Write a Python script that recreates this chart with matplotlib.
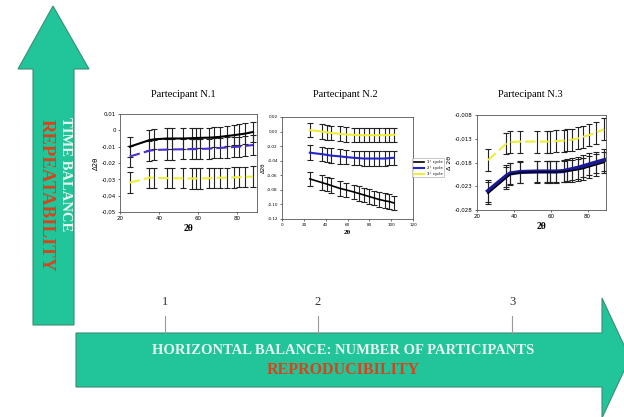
import matplotlib.pyplot as plt
from matplotlib.patches import Polygon
from matplotlib.ticker import FuncFormatter

plt.rcParams["axes.unicode_minus"] = False

# ---- data ----
titles = ["Partecipant N.1", "Partecipant N.2", "Partecipant N.3"]
participant_ticks = ["1", "2", "3"]

x1 = [25, 35, 37.5, 44, 46.5, 52, 57, 59, 61, 65.5, 68, 71, 74.5, 78, 81, 84, 88]
black1 = [-0.010, -0.006, -0.0055, -0.005, -0.005, -0.005, -0.0048, -0.0047, -0.0046,
          -0.0045, -0.0043, -0.004, -0.0035, -0.003, -0.0025, -0.002, -0.001]
blue1 = [-0.016, -0.0125, -0.012, -0.0118, -0.0117, -0.0116, -0.0115, -0.0115, -0.0114,
         -0.0112, -0.011, -0.0108, -0.0105, -0.0102, -0.010, -0.0095, -0.009]
yellow1 = [-0.032, -0.029, -0.029, -0.0293, -0.0293, -0.0294, -0.0295, -0.0295, -0.0295,
           -0.0293, -0.0292, -0.029, -0.029, -0.0288, -0.0287, -0.0285, -0.0283]
err1 = 0.0062

x2 = [25.5, 36.5, 41, 45, 53, 58.5, 66, 70.5, 75, 79.5, 84, 88.5, 94, 98, 102.5]
yellow2 = [0.002, 0.0, -0.001, -0.002, -0.003, -0.004, -0.0045, -0.005, -0.005, -0.005,
           -0.005, -0.005, -0.005, -0.0048, -0.0045]
blue2 = [-0.029, -0.031, -0.032, -0.033, -0.034, -0.035, -0.036, -0.0365, -0.037, -0.037,
         -0.037, -0.037, -0.037, -0.0365, -0.036]
black2 = [-0.065, -0.070, -0.072, -0.074, -0.078, -0.080, -0.083, -0.085, -0.087, -0.089,
          -0.091, -0.093, -0.095, -0.096, -0.098]
err2 = 0.010
legend2 = ["1° cycle", "2° cycle", "3° cycle"]

x3 = [26, 36, 38, 43.5, 52.5, 58, 59.5, 63, 67, 69, 71.5, 75, 77.5, 81, 84.5, 89]
yellow3 = [-0.0175, -0.0140, -0.0137, -0.0136, -0.0136, -0.0136, -0.0136, -0.0135, -0.0134,
           -0.0133, -0.0132, -0.0129, -0.0126, -0.0122, -0.0117, -0.0110]
blue3 = [-0.0240, -0.0208, -0.0203, -0.0200, -0.0199, -0.0199, -0.0199, -0.0199, -0.0198,
         -0.0196, -0.0194, -0.0191, -0.0188, -0.0184, -0.0180, -0.0175]
black3 = [-0.0245, -0.0212, -0.0205, -0.0201, -0.0200, -0.0200, -0.0200, -0.0200, -0.0199,
          -0.0198, -0.0197, -0.0195, -0.0193, -0.0189, -0.0185, -0.0180]
err3 = 0.0023

yticks1 = [0.01, 0, -0.01, -0.02, -0.03, -0.04, -0.05]
yticks2 = [0.02, 0, -0.02, -0.04, -0.06, -0.08, -0.1, -0.12]
yticks3 = [-0.008, -0.013, -0.018, -0.023, -0.028]

GREEN = "#22c49a"
EDGE = "#3a8f72"
RED = "#d9431c"
LIGHT = "#e6f4f1"
YELLOW = "#eeee3a"
SERIF = ["Liberation Serif", "DejaVu Serif"]

fig = plt.figure(figsize=(6.24, 4.17), dpi=100)
fig.patch.set_facecolor("white")

# background layer in pixel coordinates for the arrows and titles
bg = fig.add_axes([0, 0, 1, 1])
bg.set_xlim(0, 624)
bg.set_ylim(417, 0)
bg.axis("off")

vert = [(33, 325), (33, 69), (18, 69), (53, 6), (89, 69), (74, 69), (74, 325)]
bg.add_patch(Polygon(vert, closed=True, fc=GREEN, ec=EDGE, lw=0.8))
horiz = [(76, 333), (602, 333), (602, 298), (630, 358), (602, 418), (602, 387), (76, 387)]
bg.add_patch(Polygon(horiz, closed=True, fc=GREEN, ec=EDGE, lw=0.8, clip_on=False))

bg.text(65, 174, "TIME BALANCE", rotation=-90, ha="center", va="center",
        color=LIGHT, fontsize=10.5, fontweight="bold", family=SERIF)
bg.text(46, 195, "REPEATABILITY", rotation=-90, ha="center", va="center",
        color=RED, fontsize=13.5, fontweight="bold", family=SERIF)
bg.text(343, 350, "HORIZONTAL BALANCE: NUMBER OF PARTICIPANTS", ha="center", va="center",
        color=LIGHT, fontsize=10.5, fontweight="bold", family=SERIF)
bg.text(343, 370, "REPRODUCIBILITY", ha="center", va="center",
        color=RED, fontsize=11.5, fontweight="bold", family=SERIF)

for px, lab in zip([165, 318, 512], participant_ticks):
    bg.plot([px, px], [316, 333], color="#999999", lw=0.8)
    bg.text(px, 302, lab, ha="center", va="center", fontsize=9, family=SERIF, color="#333333")

for px, t in zip([183, 345, 530], titles):
    bg.text(px, 94, t, ha="center", va="center", fontsize=7.5, family=SERIF)

comma = FuncFormatter(lambda v, p: ("%g" % v).replace(".", ","))


def draw_series(ax, x, y, err, color, ls, lw):
    ax.errorbar(x, y, yerr=err, fmt="none", ecolor="#222222", elinewidth=0.8,
                capsize=2, capthick=0.8, zorder=2)
    line, = ax.plot(x, y, color=color, ls=ls, lw=lw, zorder=3)
    return line


def style(ax, yticks, xlabel_size):
    ax.set_yticks(yticks)
    ax.tick_params(labelsize=4, length=1.5, width=0.4, pad=1.5)
    for s in ax.spines.values():
        s.set_linewidth(0.6)
        s.set_color("#555555")
    ax.set_xlabel("2θ", fontsize=xlabel_size, fontweight="bold", family=SERIF, labelpad=2)


# panel 1
ax1 = fig.add_axes([120 / 624, 1 - 212 / 417, 137 / 624, 98 / 417])
draw_series(ax1, x1, black1, err1, "black", "-", 1.5)
draw_series(ax1, x1, blue1, err1, "#4a2fd0", (0, (5, 2)), 1.5)
draw_series(ax1, x1, yellow1, err1, YELLOW, (0, (5, 2)), 1.5)
ax1.set_xlim(20, 90)
ax1.set_ylim(-0.05, 0.01)
ax1.set_xticks([20, 40, 60, 80])
ax1.yaxis.set_major_formatter(comma)
style(ax1, yticks1, 7)
ax1.set_ylabel("Δ2θ", fontsize=5, labelpad=2)

# panel 2
ax2 = fig.add_axes([282 / 624, 1 - 219 / 417, 131 / 624, 102 / 417])
l_black = draw_series(ax2, x2, black2, err2, "black", "-", 1.2)
l_blue = draw_series(ax2, x2, blue2, err2, "#2424c8", "-", 1.5)
l_yellow = draw_series(ax2, x2, yellow2, err2, YELLOW, "-", 1.5)
ax2.set_xlim(0, 120)
ax2.set_ylim(-0.12, 0.02)
ax2.set_xticks([0, 20, 40, 60, 80, 100, 120])
style(ax2, yticks2, 5)
ax2.tick_params(labelsize=3)
ax2.set_ylabel("Δ2θ", fontsize=4, labelpad=1)
leg = ax2.legend([l_black, l_blue, l_yellow], legend2, loc="center left",
                 bbox_to_anchor=(0.98, 0.5), fontsize=2.8, frameon=True,
                 handlelength=2.5, borderpad=0.4)
leg.get_frame().set_linewidth(0.4)
leg.get_frame().set_edgecolor("#888888")

# panel 3
ax3 = fig.add_axes([477 / 624, 1 - 210 / 417, 129 / 624, 95 / 417])
draw_series(ax3, x3, yellow3, err3, YELLOW, (0, (5, 2)), 1.5)
draw_series(ax3, x3, blue3, err3, "#1a1a96", "-", 3)
draw_series(ax3, x3, black3, err3, "black", "-", 1.0)
ax3.set_xlim(20, 90)
ax3.set_ylim(-0.028, -0.008)
ax3.set_xticks([20, 40, 60, 80])
ax3.yaxis.set_major_formatter(comma)
style(ax3, yticks3, 7)
ax3.set_ylabel("Δ 2θ", fontsize=4.5, labelpad=2)

fig.savefig("out.png", dpi=100)
